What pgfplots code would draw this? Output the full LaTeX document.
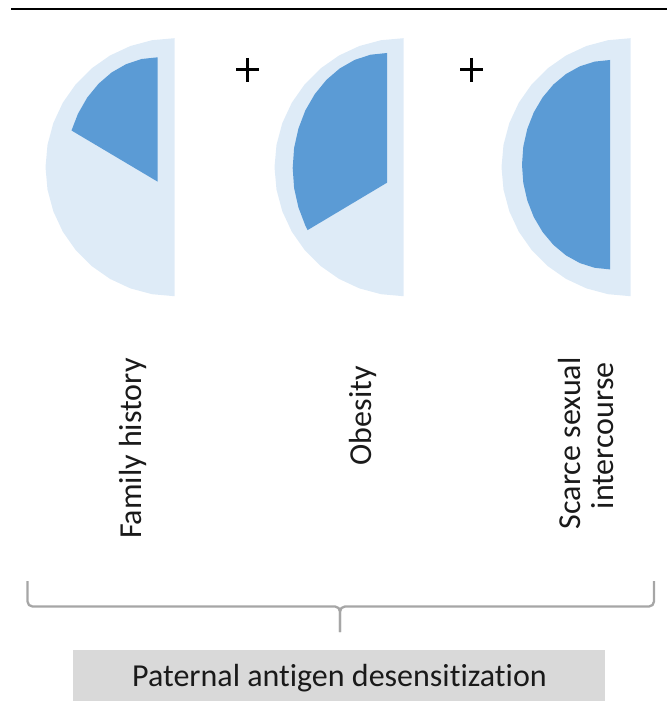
\documentclass[border=0pt]{standalone}
\usepackage{pgfplots}
\pgfplotsset{compat=1.18}
\usepackage{fontspec}
\setmainfont{Carlito}[Ligatures={NoCommon,NoContextual}]

\definecolor{paleblue}{RGB}{222,235,247}
\definecolor{midblue}{RGB}{91,155,213}
\definecolor{bracegray}{RGB}{166,166,166}
\definecolor{boxgray}{RGB}{217,217,217}
\definecolor{ink}{RGB}{26,26,26}

\begin{document}
\begin{tikzpicture}
\begin{axis}[
    scale only axis,
    width=333.5pt, height=350.5pt,
    xmin=0, xmax=667, ymin=0, ymax=701,
    y dir=reverse,
    hide axis,
    clip=false,
  ]
  % frame of the picture (pixel units)
  \addplot[draw=none] coordinates {(0,0) (667,701)};

  % top rule
  \addplot[black, line width=1pt] coordinates {(11,9) (667,9)};

  % outer half discs
  \addplot[fill=paleblue, draw=none] coordinates {
    (174.5,38.2) (152.1,40.2) (130.4,46.0) (110.0,55.5) (91.6,68.4)
    (75.7,84.3) (62.8,102.7) (53.3,123.1) (47.5,144.8) (45.5,167.2)
    (47.5,189.6) (53.3,211.3) (62.8,231.7) (75.7,250.1) (91.6,266.0)
    (110.0,278.9) (130.4,288.4) (152.1,294.2) (174.5,296.2)} -- cycle;
  \addplot[fill=paleblue, draw=none] coordinates {
    (403.5,38.2) (381.1,40.2) (359.4,46.0) (339.0,55.5) (320.6,68.4)
    (304.7,84.3) (291.8,102.7) (282.3,123.1) (276.5,144.8) (274.5,167.2)
    (276.5,189.6) (282.3,211.3) (291.8,231.7) (304.7,250.1) (320.6,266.0)
    (339.0,278.9) (359.4,288.4) (381.1,294.2) (403.5,296.2)} -- cycle;
  \addplot[fill=paleblue, draw=none] coordinates {
    (630.5,38.2) (608.1,40.2) (586.4,46.0) (566.0,55.5) (547.6,68.4)
    (531.7,84.3) (518.8,102.7) (509.3,123.1) (503.5,144.8) (501.5,167.2)
    (503.5,189.6) (509.3,211.3) (518.8,231.7) (531.7,250.1) (547.6,266.0)
    (566.0,278.9) (586.4,288.4) (608.1,294.2) (630.5,296.2)} -- cycle;

  % filled parts
  \addplot[fill=midblue, draw=none] coordinates {
    (157.7,57.3) (141.7,59.0) (126.2,64.1) (111.7,72.4) (98.6,83.7)
    (87.2,97.6) (78.0,113.7) (71.5,130.5) (157.7,181.7)} -- cycle;
  \addplot[fill=midblue, draw=none] coordinates {
    (387,53.0) (370.6,54.7) (354.7,59.9) (339.8,68.4) (326.4,79.9)
    (314.8,94.1) (305.3,110.5) (298.4,128.7) (294.1,148.0) (292.7,168.0)
    (294.1,188.0) (298.4,207.3) (305.3,225.5) (307.6,230.1) (387,182.7)} -- cycle;
  \addplot[fill=midblue, draw=none] coordinates {
    (610,60.0) (594.7,61.6) (579.9,66.3) (566.0,74.0) (553.4,84.5)
    (542.6,97.4) (533.8,112.3) (527.3,128.9) (523.3,146.5) (522.0,164.7)
    (523.3,182.9) (527.3,200.5) (533.8,217.1) (542.6,232.0) (553.4,244.9)
    (566.0,255.4) (579.9,263.1) (594.7,267.8) (610,269.4)} -- cycle;

  % plus signs
  \addplot[black, line width=1.5pt] coordinates {(236,70) (259,70)};
  \addplot[black, line width=1.5pt] coordinates {(247.5,58) (247.5,82)};
  \addplot[black, line width=1.5pt] coordinates {(460,70) (483,70)};
  \addplot[black, line width=1.5pt] coordinates {(471.5,58) (471.5,82)};

  % labels
  \node[rotate=90, anchor=base east, inner sep=0pt, text=ink,
        font=\fontsize{16}{19}\selectfont] at (axis cs:141.7,358) {Family history};
  \node[rotate=90, anchor=base east, inner sep=0pt, text=ink,
        font=\fontsize{16}{19}\selectfont] at (axis cs:371.5,366) {Obesity};
  \node[rotate=90, anchor=base east, inner sep=0pt, text=ink,
        font=\fontsize{16}{19}\selectfont] at (axis cs:580,357) {Scarce sexual};
  \node[rotate=90, anchor=base east, inner sep=0pt, text=ink,
        font=\fontsize{16}{19}\selectfont] at (axis cs:613.3,362) {intercourse};

  % brace
  \addplot[bracegray, line width=1.15pt, rounded corners=2.5pt] coordinates {
    (27.5,581) (27.5,606.5) (340,606.5) (340,632)};
  \addplot[bracegray, line width=1.15pt, rounded corners=2.5pt] coordinates {
    (654,581) (654,606.5) (340,606.5) (340,632)};

  % caption box
  \addplot[fill=boxgray, draw=none] coordinates {
    (73,650) (605,650) (605,701) (73,701)} -- cycle;
  \node[anchor=base, inner sep=0pt, text=ink,
        font=\fontsize{16}{19}\selectfont] at (axis cs:339.5,686.7)
        {Paternal antigen desensitization};
\end{axis}
\end{tikzpicture}
\end{document}
